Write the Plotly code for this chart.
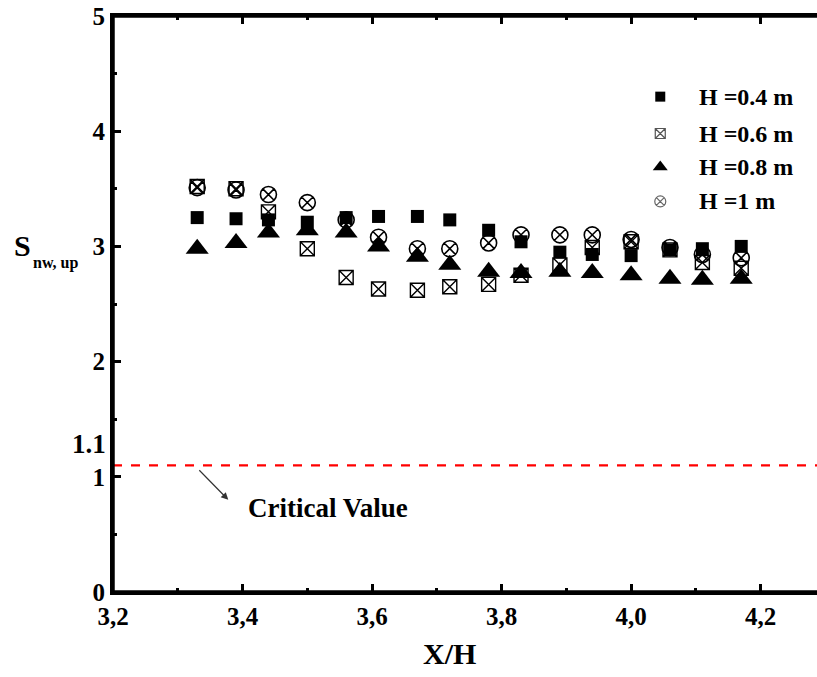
import plotly.graph_objects as go

x_vals = [3.33, 3.39, 3.44, 3.50, 3.56, 3.61, 3.67, 3.72, 3.78, 3.83, 3.89, 3.94, 4.00, 4.06, 4.11, 4.17]
h04 = [3.25, 3.24, 3.23, 3.21, 3.25, 3.26, 3.26, 3.23, 3.14, 3.04, 2.95, 2.93, 2.92, 2.97, 2.98, 3.00]
h06 = [3.52, 3.50, 3.30, 2.98, 2.73, 2.63, 2.62, 2.65, 2.67, 2.75, 2.84, 2.99, 3.04, 2.97, 2.86, 2.81]
h08 = [2.98, 3.03, 3.12, 3.14, 3.12, 3.00, 2.91, 2.84, 2.78, 2.77, 2.78, 2.77, 2.75, 2.72, 2.71, 2.72]
h10 = [3.51, 3.49, 3.45, 3.38, 3.23, 3.08, 2.98, 2.98, 3.03, 3.10, 3.10, 3.10, 3.06, 2.99, 2.93, 2.90]
series_names = ["H =0.4 m", "H =0.6 m", "H =0.8 m", "H =1 m"]
critical_value = 1.1
x_ticks = [3.2, 3.4, 3.6, 3.8, 4.0, 4.2]
x_ticktext = ["3,2", "3,4", "3,6", "3,8", "4,0", "4,2"]
y_ticks = [0, 1, 2, 3, 4, 5]

FONT = "Liberation Serif"

fig = go.Figure()
styles = [
    dict(symbol="square", size=13, color="black", line=dict(width=0)),
    dict(symbol="square-x-open", size=14, color="black", line=dict(width=1.4)),
    dict(symbol="triangle-up", size=20, color="black", line=dict(width=0)),
    dict(symbol="circle-x-open", size=16, color="black", line=dict(width=1.6)),
]
for ys, name, st in zip([h04, h06, h08, h10], series_names, styles):
    fig.add_trace(go.Scatter(x=x_vals, y=ys, mode="markers", name=name, marker=st, showlegend=False))

# critical line
fig.add_trace(go.Scatter(x=[3.2, 4.3], y=[critical_value, critical_value], mode="lines",
                         line=dict(color="red", width=2.2, dash="dash"), showlegend=False, hoverinfo="skip"))

# manual legend
legend_y = [4.30, 3.98, 3.69, 3.39]
leg_styles = [
    dict(symbol="square", size=10, color="black", line=dict(width=0)),
    dict(symbol="square-x-open", size=10, color="#555555", line=dict(width=1.2)),
    dict(symbol="triangle-up", size=13, color="black", line=dict(width=0)),
    dict(symbol="circle-x-open", size=11, color="#666666", line=dict(width=1.2)),
]
for ly, name, st in zip(legend_y, series_names, leg_styles):
    fig.add_trace(go.Scatter(x=[4.045], y=[ly], mode="markers", marker=st, showlegend=False, hoverinfo="skip"))
    fig.add_annotation(x=4.102, y=ly, text="<b>%s</b>" % name, showarrow=False, xanchor="left",
                       yanchor="middle", font=dict(family=FONT, size=24, color="black"))

# critical value arrow and text
fig.add_annotation(x=3.378, y=0.80, ax=3.331, ay=1.07, axref="x", ayref="y", xref="x", yref="y",
                   text="", showarrow=True, arrowhead=2, arrowsize=1.2, arrowwidth=1.2, arrowcolor="#333333")
fig.add_annotation(x=3.405, y=0.73, text="<b>Critical Value</b>", showarrow=False, xanchor="left",
                   font=dict(family=FONT, size=27, color="black"))
fig.add_annotation(x=3.2, y=critical_value, xref="x", yref="y", text="<b>1.1</b>", showarrow=False,
                   xanchor="right", xshift=-5, yshift=21, font=dict(family=FONT, size=27, color="black"))

# axis titles
fig.add_annotation(x=0.478, y=-0.106, xref="paper", yref="paper", text="<b>X/H</b>", showarrow=False,
                   yanchor="middle", font=dict(family=FONT, size=30, color="black"))
fig.add_annotation(x=-0.143, y=3.01, xref="paper", yref="y", text="<b>S</b>", showarrow=False,
                   xanchor="left", yanchor="middle", font=dict(family=FONT, size=30, color="black"))
fig.add_annotation(x=-0.116, y=2.86, xref="paper", yref="y", text="<b>nw, up</b>", showarrow=False,
                   xanchor="left", yanchor="middle", font=dict(family=FONT, size=16, color="black"))

# heavy frame lines
frame = dict(color="black", width=3.5)
fig.add_shape(type="line", xref="paper", yref="paper", x0=0, x1=0, y0=0, y1=1, line=frame)
fig.add_shape(type="line", xref="paper", yref="paper", x0=0, x1=1, y0=0, y1=0, line=frame)
fig.add_shape(type="line", xref="paper", yref="paper", x0=0, x1=1, y0=1, y1=1, line=frame)

fig.update_layout(
    width=817, height=677,
    margin=dict(l=113, r=0, t=16, b=85),
    plot_bgcolor="white", paper_bgcolor="white",
    font=dict(family=FONT, size=24, color="black"),
    xaxis=dict(range=[3.2, 4.287], tickvals=x_ticks, ticktext=["<b>%s</b>" % t for t in x_ticktext],
               showgrid=False, zeroline=False, showline=True, linecolor="black", linewidth=3,
               mirror="ticks", ticks="inside", ticklen=8, tickwidth=2.5, tickcolor="black",
               minor=dict(ticks="inside", ticklen=4, tickwidth=2.5, tickcolor="black", dtick=0.1, showgrid=False),
               tickfont=dict(family=FONT, size=25)),
    yaxis=dict(range=[0, 5], tickvals=y_ticks, ticktext=["<b>%d</b>" % t for t in y_ticks],
               showgrid=False, zeroline=False, showline=True, linecolor="black", linewidth=3,
               ticks="inside", ticklen=8, tickwidth=2.5, tickcolor="black",
               minor=dict(ticks="inside", ticklen=4, tickwidth=2.5, tickcolor="black", dtick=0.5, showgrid=False),
               tickfont=dict(family=FONT, size=25)),
)

fig.write_html("out.html")
